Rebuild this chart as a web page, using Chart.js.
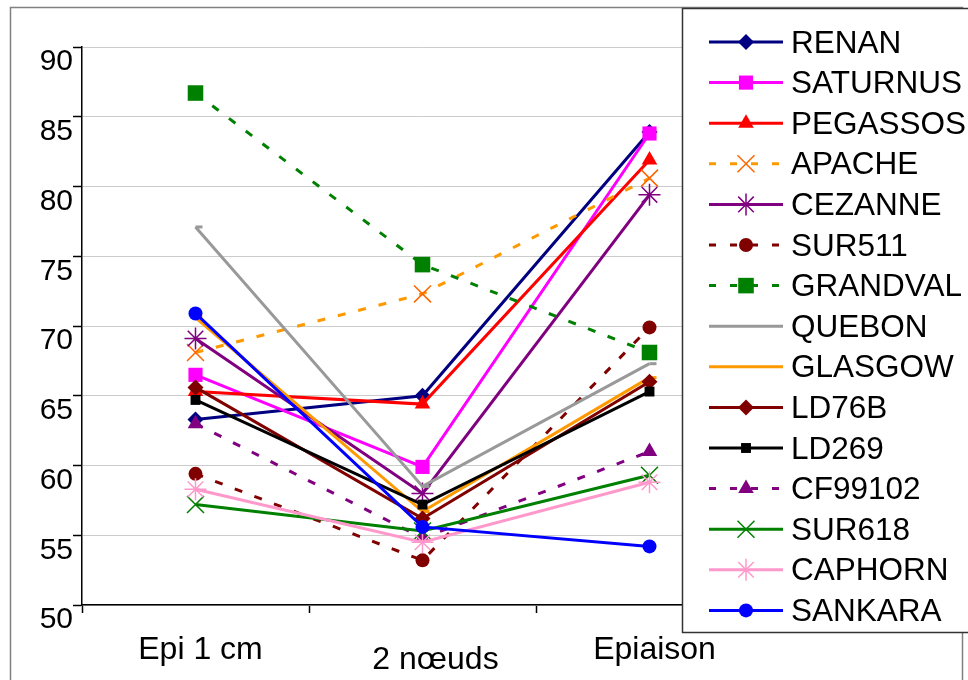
<!DOCTYPE html>
<html><head><meta charset="utf-8">
<script src="https://cdn.jsdelivr.net/npm/chart.js@4.4.0/dist/chart.umd.min.js"></script>
<style>html,body{margin:0;padding:0;background:#fff}canvas{display:block}</style>
</head><body>
<canvas id="c" width="968" height="680"></canvas>
<script>
// categories and tick values
const categories=['Epi 1 cm','2 nœuds','Epiaison'];
const yTicks=[50,55,60,65,70,75,80,85,90];
// series values (Epi 1 cm, 2 nœuds, Epiaison)
const RENAN=[63.3,65.0,83.9];
const SATURNUS=[66.5,59.9,83.8];
const PEGASSOS=[65.3,64.4,81.9];
const APACHE=[68.1,72.3,80.6];
const CEZANNE=[69.1,58.0,79.4];
const SUR511=[59.4,53.2,69.9];
const GRANDVAL=[86.7,74.4,68.1];
const QUEBON=[77.1,58.5,67.3];
const GLASGOW=[70.6,56.7,66.3];
const LD76B=[65.6,56.2,66.0];
const LD269=[64.7,57.2,65.3];
const CF99102=[63.0,54.8,61.0];
const SUR618=[57.2,55.3,59.3];
const CAPHORN=[58.3,54.5,58.8];
const SANKARA=[70.9,55.6,54.2];

const names=['RENAN','SATURNUS','PEGASSOS','APACHE','CEZANNE','SUR511','GRANDVAL','QUEBON','GLASGOW','LD76B','LD269','CF99102','SUR618','CAPHORN','SANKARA'];
const values=[RENAN,SATURNUS,PEGASSOS,APACHE,CEZANNE,SUR511,GRANDVAL,QUEBON,GLASGOW,LD76B,LD269,CF99102,SUR618,CAPHORN,SANKARA];

// look of each series: line colour, marker colour, marker, size, dashed, filled
const looks=[
  {c:'#000080',m:'#000080',p:'rectRot',r:8,d:false,f:true},
  {c:'#ff00ff',m:'#ff00ff',p:'rect',r:10,d:false,f:true},
  {c:'#ff0000',m:'#ff0000',p:'triangle',r:9,d:false,f:true},
  {c:'#ff9900',m:'#ff6600',p:'crossRot',r:12,d:true,f:false},
  {c:'#800080',m:'#800080',p:'star',r:11,d:false,f:false},
  {c:'#800000',m:'#800000',p:'circle',r:7,d:true,f:true},
  {c:'#008000',m:'#008000',p:'rect',r:11,d:true,f:true},
  {c:'#999999',m:'#999999',p:'dash',r:7,d:false,f:false},
  {c:'#ff9900',m:'#ff9900',p:'dash',r:7,d:false,f:false},
  {c:'#800000',m:'#800000',p:'rectRot',r:8,d:false,f:true},
  {c:'#000000',m:'#000000',p:'rect',r:7,d:false,f:true},
  {c:'#800080',m:'#800080',p:'triangle',r:9,d:true,f:true},
  {c:'#008000',m:'#008000',p:'crossRot',r:12,d:false,f:false},
  {c:'#ff99cc',m:'#ff99cc',p:'star',r:11,d:false,f:false},
  {c:'#0000ff',m:'#0000ff',p:'circle',r:7,d:false,f:true}
];
const DASH=[8,13];
const FONT='Liberation Sans, Arial, sans-serif';

const datasets=names.map((n,i)=>{
  const s=looks[i];
  const markBorder=s.f?0:(s.p==='dash'?3:1.5);
  return {label:n,data:values[i],borderColor:s.c,backgroundColor:s.m,borderWidth:3,borderDash:s.d?DASH:[],
    pointStyle:s.p,pointRadius:s.r,pointBackgroundColor:s.f?s.m:'transparent',pointBorderColor:s.m,pointBorderWidth:markBorder,
    tension:0,fill:false,order:names.length-i};
});

const framePlugin={id:'frame',
  beforeDraw(chart){
    const ctx=chart.ctx;
    ctx.save();
    ctx.fillStyle='#fff';ctx.fillRect(0,0,chart.width,chart.height);
    ctx.strokeStyle='#808080';ctx.lineWidth=1.5;
    ctx.strokeRect(10.5,7.5,952,690);
    ctx.restore();
  },
  afterDraw(chart){
    const ctx=chart.ctx,xs=chart.scales.x;
    ctx.save();
    // category labels (middle one sits lower)
    ctx.fillStyle='#000';ctx.font='32px '+FONT;ctx.textAlign='center';ctx.textBaseline='middle';
    const lift=[650,660,650],shift=[5,13,5];
    categories.forEach((c,i)=>ctx.fillText(c,xs.getPixelForValue(i)+shift[i],lift[i]));
    // legend box
    ctx.fillStyle='#fff';ctx.fillRect(682.5,8.5,300,624);
    ctx.strokeStyle='#333';ctx.lineWidth=1.5;ctx.strokeRect(682.5,8.5,300,624);
    names.forEach((n,i)=>{
      const s=looks[i],y=42+i*40.6;
      ctx.strokeStyle=s.c;ctx.lineWidth=3;ctx.setLineDash(s.d?[7,14]:[]);
      ctx.beginPath();ctx.moveTo(709,y);ctx.lineTo(783,y);ctx.stroke();
      ctx.setLineDash([]);
      ctx.fillStyle=s.m;ctx.strokeStyle=s.m;
      const bw=s.f?0:(s.p==='dash'?3:1.5);
      ctx.lineWidth=bw;
      if(s.p!=='dash')Chart.helpers.drawPoint(ctx,{pointStyle:s.p,radius:s.r,rotation:0,borderWidth:bw},746,y);
      ctx.fillStyle='#000';ctx.font='31.5px '+FONT;ctx.textAlign='left';ctx.textBaseline='middle';
      ctx.fillText(n,791,y+2);
    });
    ctx.restore();
  }
};

new Chart(document.getElementById('c'),{
  type:'line',
  data:{labels:categories,datasets},
  options:{
    responsive:false,devicePixelRatio:1,animation:false,events:[],
    layout:{padding:{left:10,top:47,right:205,bottom:0}},
    plugins:{legend:{display:false},tooltip:{enabled:false}},
    scales:{
      x:{offset:true,
        grid:{offset:true,drawOnChartArea:false,drawTicks:true,tickLength:8,tickColor:'#000',tickWidth:1.5},
        border:{color:'#000',width:1.5},
        ticks:{display:false},
        afterFit(s){s.height=75}},
      y:{min:50,max:90,
        afterBuildTicks(s){s.ticks=yTicks.map(v=>({value:v}))},
        grid:{color:'#cccccc',lineWidth:1,tickLength:9,tickColor:'#000',tickWidth:1.5},
        border:{color:'#000',width:1.5},
        ticks:{color:'#000',font:{family:FONT,size:30},padding:0,align:'start'},
        afterFit(s){s.width=72}}
    }
  },
  plugins:[framePlugin]
});
</script>
</body></html>
